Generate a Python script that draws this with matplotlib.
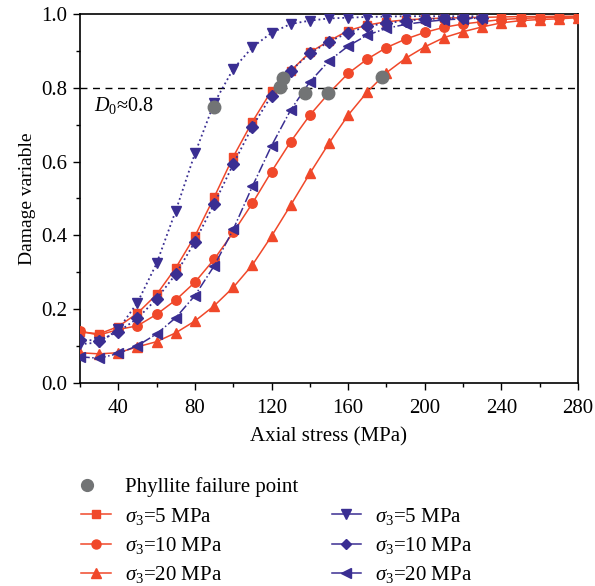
import matplotlib
matplotlib.use("Agg")
import matplotlib.pyplot as plt
from matplotlib.lines import Line2D
from matplotlib.legend_handler import HandlerLine2D
from matplotlib.ticker import MultipleLocator

plt.rcParams['font.family'] = ['Liberation Serif', 'DejaVu Serif']
plt.rcParams['mathtext.fontset'] = 'custom'
plt.rcParams['mathtext.it'] = 'Liberation Serif:italic'
plt.rcParams['mathtext.rm'] = 'Liberation Serif'

# ---- data ----
x_red = [20, 30, 40, 50, 60, 70, 80, 90, 100, 110, 120, 130, 140, 150, 160, 170, 180,
         190, 200, 210, 220, 230, 240, 250, 260, 270, 280]
red_5 = [0.139, 0.133, 0.153, 0.189, 0.240, 0.312, 0.398, 0.503, 0.613, 0.708, 0.792, 0.846,
         0.896, 0.927, 0.955, 0.970, 0.979, 0.984, 0.987, 0.989, 0.990, 0.991, 0.992, 0.993,
         0.993, 0.994, 0.994]
red_10 = [0.140, 0.130, 0.145, 0.155, 0.186, 0.225, 0.273, 0.335, 0.408, 0.487, 0.573, 0.654,
          0.726, 0.786, 0.839, 0.878, 0.909, 0.932, 0.950, 0.964, 0.973, 0.979, 0.985, 0.988,
          0.990, 0.991, 0.992]
red_20 = [0.082, 0.079, 0.082, 0.098, 0.112, 0.136, 0.168, 0.209, 0.259, 0.320, 0.398, 0.482,
          0.568, 0.650, 0.726, 0.789, 0.841, 0.880, 0.911, 0.936, 0.952, 0.965, 0.976, 0.982,
          0.985, 0.987, 0.990]

x_blue = [20, 30, 40, 50, 60, 70, 80, 90, 100, 110, 120, 130, 140, 150, 160, 170, 180,
          190, 200, 210, 220, 230]
blue_5 = [0.105, 0.110, 0.145, 0.218, 0.324, 0.467, 0.622, 0.758, 0.851, 0.910, 0.949, 0.973,
          0.982, 0.988, 0.990, 0.992, 0.993, 0.994, 0.994, 0.994, 0.994, 0.994]
blue_10 = [0.117, 0.115, 0.139, 0.175, 0.228, 0.295, 0.383, 0.485, 0.593, 0.695, 0.779, 0.846,
           0.893, 0.925, 0.949, 0.967, 0.975, 0.982, 0.986, 0.988, 0.989, 0.990]
blue_20 = [0.071, 0.067, 0.080, 0.101, 0.133, 0.177, 0.237, 0.317, 0.416, 0.533, 0.643, 0.740,
           0.816, 0.873, 0.913, 0.943, 0.961, 0.972, 0.979, 0.984, 0.987, 0.989]

fail_x = [90, 124.3, 126, 137.7, 149.5, 177.8]
fail_y = [0.749, 0.801, 0.826, 0.785, 0.787, 0.828]

x_ticks = [40, 80, 120, 160, 200, 240, 280]
y_ticks = [0.0, 0.2, 0.4, 0.6, 0.8, 1.0]

RED = '#F0482A'
BLUE = '#3A2E92'
GRAY = '#727475'

fig = plt.figure(figsize=(5.95, 5.86), dpi=100)
ax = fig.add_axes([80/595, 1-383/586, (578-80)/595, (383-14)/586])

ms = 6.5
ax.plot(x_red, red_5, '-', color=RED, lw=1.1, marker='s', ms=ms-0.3, zorder=3)
ax.plot(x_red, red_10, '-', color=RED, lw=1.1, marker='o', ms=ms+0.3, zorder=3)
ax.plot(x_red, red_20, '-', color=RED, lw=1.1, marker='^', ms=ms+0.8, zorder=3)
ax.plot(x_blue, blue_5, ':', color=BLUE, lw=1.3, marker='v', ms=ms+0.8, zorder=4)
ax.plot(x_blue, blue_10, ':', color=BLUE, lw=1.3, marker='D', ms=ms-0.8, zorder=4)
ax.plot(x_blue, blue_20, '-.', color=BLUE, lw=1.1, marker='<', ms=ms+0.8, zorder=4)
ax.plot(fail_x, fail_y, 'o', color=GRAY, ms=9, ls='none', zorder=5)

ax.axhline(0.8, color='black', ls=(0, (5, 4)), lw=1.0, zorder=2)
ax.text(27.5, 0.753, r'$D_0$≈0.8', fontsize=14.5, ha='left', va='center')

ax.set_xlim(20, 280)
ax.set_ylim(0, 1.0)
ax.set_xticks(x_ticks)
ax.set_yticks(y_ticks)
ax.set_yticklabels([f'{v:.1f}' for v in y_ticks])
ax.xaxis.set_minor_locator(MultipleLocator(20))
ax.yaxis.set_minor_locator(MultipleLocator(0.1))
ax.tick_params(which='both', direction='out', labelsize=15, top=False, right=False)
ax.tick_params(which='major', length=5, width=1)
ax.tick_params(which='minor', length=3, width=1)
ax.tick_params(axis='x', which='major', pad=6.5)
ax.tick_params(axis='y', which='major', pad=4)
for s in ax.spines.values():
    s.set_linewidth(1.2)

ax.set_xlabel('Axial stress (MPa)', fontsize=15, labelpad=7)
ax.set_ylabel('Damage variable', fontsize=14, labelpad=4)

handles = [
    Line2D([], [], color=GRAY, marker='o', ls='none', ms=8.5),
    Line2D([], [], color=RED, marker='s', ls='-', ms=5.5, lw=1.1),
    Line2D([], [], color=RED, marker='o', ls='-', ms=6.5, lw=1.1),
    Line2D([], [], color=RED, marker='^', ls='-', ms=7, lw=1.1),
    Line2D([], [], color='none', ls='none'),
    Line2D([], [], color=BLUE, marker='v', ls='-', ms=7, lw=1.1),
    Line2D([], [], color=BLUE, marker='D', ls='-', ms=5.5, lw=1.1),
    Line2D([], [], color=BLUE, marker='<', ls='-', ms=7, lw=1.1),
]
labels = ['Phyllite failure point',
          r'$\sigma_3$=5 MPa', r'$\sigma_3$=10 MPa', r'$\sigma_3$=20 MPa',
          '',
          r'$\sigma_3$=5 MPa', r'$\sigma_3$=10 MPa', r'$\sigma_3$=20 MPa']
leg = fig.legend(handles, labels, ncol=2, loc='upper left',
                 bbox_to_anchor=(73/595, 1-469/586), frameon=False, fontsize=15,
                 handlelength=1.4, handletextpad=0.7, columnspacing=1.6,
                 labelspacing=0.4, borderaxespad=0,
                 handler_map={handles[0]: HandlerLine2D(xpad=-0.84)})

fig.savefig('out.png', dpi=100)
